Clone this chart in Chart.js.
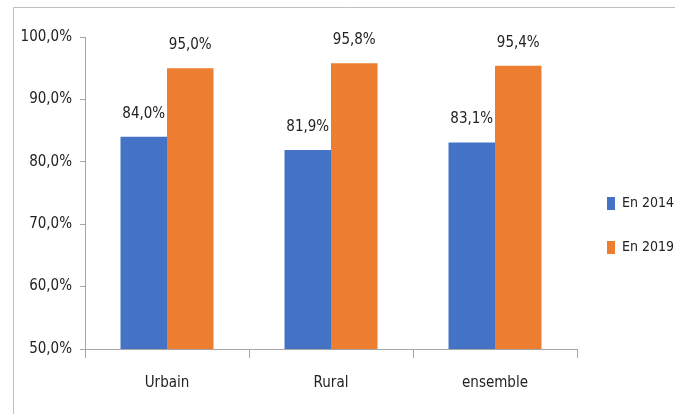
<!DOCTYPE html>
<html>
<head>
<meta charset="utf-8">
<script src="https://cdn.jsdelivr.net/npm/chart.js@4"></script>
<style>
  html, body { margin: 0; padding: 0; background: #fff; }
  #wrap { width: 675px; height: 414px; position: relative; }
</style>
</head>
<body>
<div id="wrap"><canvas id="myChart"></canvas></div>
<script>
const categories = ["Urbain", "Rural", "ensemble"];
const values2014 = [84.0, 81.9, 83.1];
const values2019 = [95.0, 95.8, 95.4];
const yTicks = [50, 60, 70, 80, 90, 100];

const FONT = "'Liberation Sans Narrow', 'DejaVu Sans Condensed', 'Roboto', sans-serif";
const TEXT = "#222";

const fmt = (v) => v.toFixed(1).replace(".", ",") + "%";

// frame around the chart, like the one in the source picture
const framePlugin = {
  id: "frame",
  beforeDraw(chart) {
    const c = chart.ctx;
    c.save();
    c.strokeStyle = "#bfbfbf";
    c.lineWidth = 1;
    c.beginPath();
    c.moveTo(13.5, chart.height);
    c.lineTo(13.5, 7.5);
    c.lineTo(chart.width, 7.5);
    c.stroke();
    c.restore();
  },
};

// value labels above each bar
const valueLabels = {
  id: "valueLabels",
  afterDatasetsDraw(chart) {
    const c = chart.ctx;
    c.save();
    c.font = "15px " + FONT;
    c.fillStyle = TEXT;
    c.textAlign = "center";
    c.textBaseline = "alphabetic";
    chart.data.datasets.forEach((ds, i) => {
      chart.getDatasetMeta(i).data.forEach((bar, j) => {
        c.fillText(fmt(ds.data[j]), bar.x, bar.y - 19);
      });
    });
    c.restore();
  },
};

const data = {
  labels: categories,
  datasets: [
    {
      label: "En 2014",
      data: values2014,
      backgroundColor: "#4472C4",
    },
    {
      label: "En 2019",
      data: values2019,
      backgroundColor: "#ED7D31",
    },
  ],
};

const ctx = document.getElementById("myChart");
const chart = new Chart(ctx, {
  type: "bar",
  data: data,
  plugins: [framePlugin, valueLabels],
  options: {
    responsive: true,
    maintainAspectRatio: false,
    animation: false,
    datasets: {
      bar: {
        categoryPercentage: 0.567,
        barPercentage: 1,
      },
    },
    layout: {
      padding: { left: 13, top: 37, right: 0, bottom: 0 },
    },
    plugins: {
      tooltip: { enabled: false },
      legend: {
        position: "right",
        maxWidth: 98,
        labels: {
          boxWidth: 8,
          boxHeight: 13,
          padding: 30,
          color: TEXT,
          font: { family: FONT, size: 14 },
        },
      },
    },
    scales: {
      x: {
        afterFit: (s) => { s.height = 65; },
        grid: {
          offset: true,
          drawOnChartArea: false,
          drawTicks: true,
          tickLength: 9,
          color: "#a6a6a6",
        },
        border: { color: "#a6a6a6" },
        ticks: {
          color: TEXT,
          padding: 16,
          font: { family: FONT, size: 15 },
        },
      },
      y: {
        min: 50,
        max: 100,
        afterFit: (s) => { s.width = 72; },
        afterBuildTicks: (s) => { s.ticks = yTicks.map((v) => ({ value: v })); },
        grid: {
          drawOnChartArea: false,
          drawTicks: true,
          tickLength: 5,
          color: "#a6a6a6",
        },
        border: { color: "#a6a6a6" },
        ticks: {
          color: TEXT,
          padding: 8,
          font: { family: FONT, size: 15 },
          callback: (v) => fmt(v),
        },
      },
    },
  },
});
</script>
</body>
</html>
